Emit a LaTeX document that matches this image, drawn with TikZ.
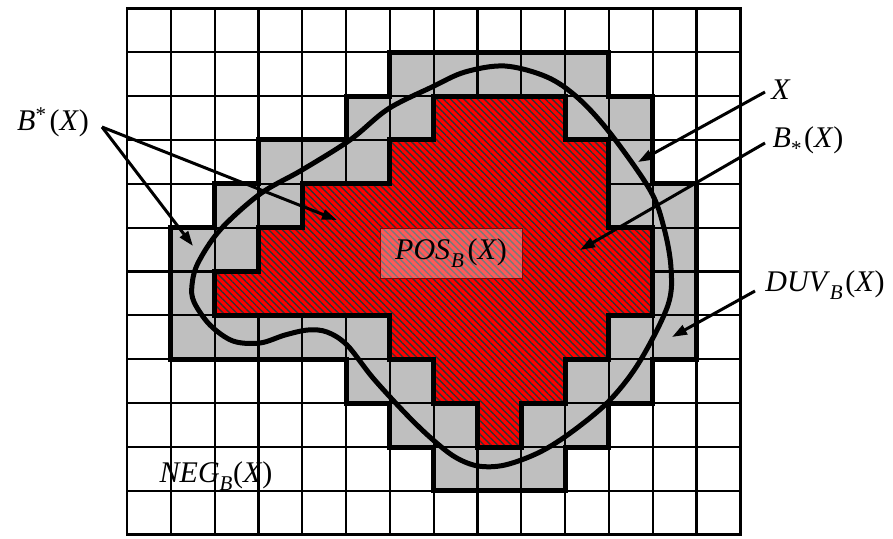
\documentclass[tikz,border=0pt]{standalone}
\usepackage{fontspec}
\setmainfont{Liberation Serif}
\usetikzlibrary{arrows.meta,patterns.meta}
\begin{document}
\begin{tikzpicture}[x=1pt,y=-1pt,
  gridline/.style={line width=2.2pt},
  boldedge/.style={line width=5pt, line join=miter},
  frameline/.style={line width=2.8pt},
  curveX/.style={line width=5pt},
  pointer/.style={line width=3pt, -{Triangle[length=15pt,width=10pt]}},
  lbl/.style={font=\fontsize{30}{34}\selectfont, inner sep=0pt},
  cellgray/.style={fill=black!25},
  hatch/.style={pattern={Lines[angle=-45,distance=4.8pt,line width=1.4pt]}, pattern color=black!80}]
\useasboundingbox (0,0) rectangle (893,538);
\fill[white] (0,0) rectangle (893,538);
\begin{scope}[shift={(127,8.3)}, x=43.8pt, y=-43.87pt]
  \path[save path=\UpperP] (6,1) -- (11,1) -- (11,2) -- (12,2) -- (12,4) -- (13,4) -- (13,8) -- (12,8) -- (12,9) -- (11,9) -- (11,10) -- (10,10) -- (10,11) -- (7,11) -- (7,10) -- (6,10) -- (6,9) -- (5,9) -- (5,8) -- (1,8) -- (1,5) -- (2,5) -- (2,4) -- (3,4) -- (3,3) -- (5,3) -- (5,2) -- (6,2) -- cycle;
  \path[save path=\LowerP] (7,2) -- (10,2) -- (10,3) -- (11,3) -- (11,5) -- (12,5) -- (12,7) -- (11,7) -- (11,8) -- (10,8) -- (10,9) -- (9,9) -- (9,10) -- (8,10) -- (8,9) -- (7,9) -- (7,8) -- (6,8) -- (6,7) -- (2,7) -- (2,6) -- (3,6) -- (3,5) -- (4,5) -- (4,4) -- (6,4) -- (6,3) -- (7,3) -- cycle;
  \fill[cellgray, use path=\UpperP];
  \foreach \i in {1,...,13} \draw[gridline] (\i,0) -- (\i,12);
  \foreach \j in {1,...,11} \draw[gridline] (0,\j) -- (14,\j);
  \fill[red, use path=\LowerP];
  \fill[hatch, use path=\LowerP];
  \draw[boldedge, use path=\UpperP];
  \draw[boldedge, use path=\LowerP];
  \draw[frameline] (0,0) rectangle (14,12);
\end{scope}
\draw[curveX] plot[smooth cycle, tension=0.55] coordinates {
 (192,285) (198,263) (220,230) (260,194) (302,170) (350,140) (388,109) (432,87)
 (465,72) (505,66) (547,77) (578,98) (610,133) (650,190) (664,228) (671,268)
 (668,305) (640,361) (610,400) (573,431) (540,452) (505,465) (478,466) (455,457)
 (432,439) (407,415) (373,378) (347,345) (327,332) (308,330) (285,335) (260,343)
 (233,341) (210,325) (194,302)};
\node[draw=red!55!black, line width=0.8pt, fill=white, fill opacity=0.35, text opacity=1,
  minimum width=142pt, minimum height=50pt, inner sep=0pt, font=\fontsize{30}{34}\selectfont] (pos) at (451,253)
  {\textit{POS}\kern1pt\raisebox{-3pt}{\textsubscript{\textit{B}}}\kern3pt(\textit{X})};
\node[lbl] (bstar) at (53,122) {\textit{B}\textsuperscript{*}\kern3pt(\textit{X})};
\node[lbl] (xlab) at (781,90) {\textit{X}};
\node[lbl] (blow) at (808,141) {\textit{B}\raisebox{-3pt}{\textsubscript{*}}\kern2pt(\textit{X})};
\node[lbl] (duv) at (825,285) {\textit{DUV}\raisebox{-3pt}{\textsubscript{\textit{B}}}\kern2pt(\textit{X})};
\node[lbl] (neg) at (216,476) {\textit{NEG}\raisebox{-3pt}{\textsubscript{\textit{B}}}(\textit{X})};
\coordinate (sB) at (102,127);
\coordinate (tB1) at (193,246);
\coordinate (tB2) at (337,220);
\coordinate (sX) at (765,92);
\coordinate (tX) at (638,162);
\coordinate (sBl) at (765,143);
\coordinate (tBl) at (580,250);
\coordinate (sD) at (755,291);
\coordinate (tD) at (672,337);
\draw[pointer] (sB) -- (tB1);
\draw[pointer] (sB) -- (tB2);
\draw[pointer] (sX) -- (tX);
\draw[pointer] (sBl) -- (tBl);
\draw[pointer] (sD) -- (tD);
\end{tikzpicture}
\end{document}
